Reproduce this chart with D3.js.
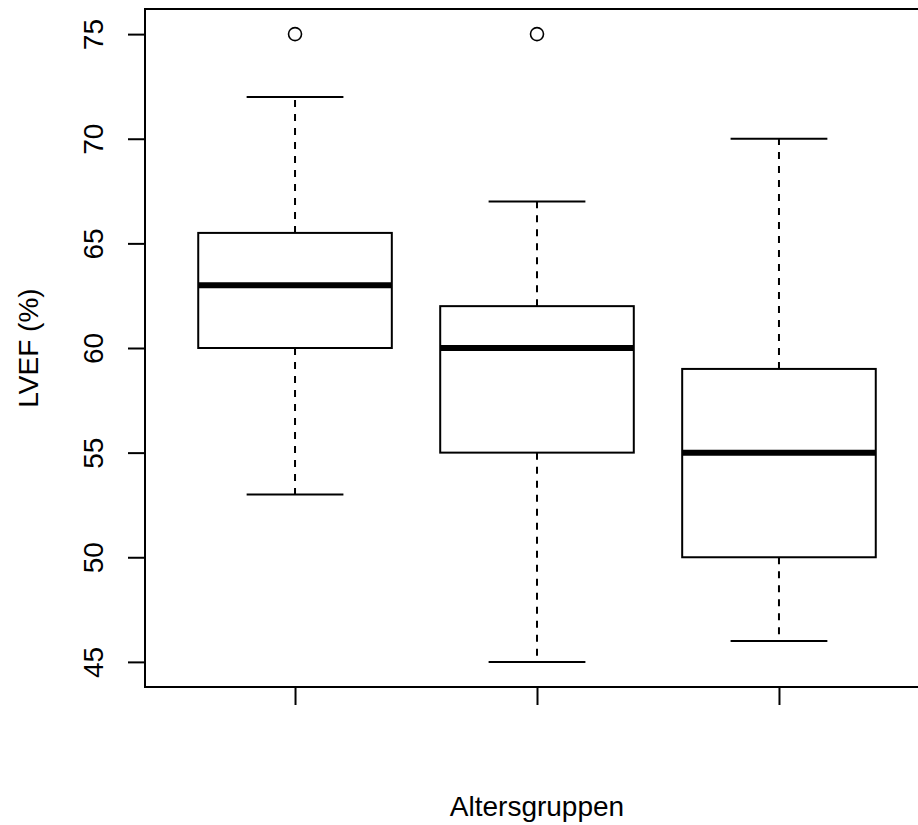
<!DOCTYPE html>
<html><head><meta charset="utf-8">
<script src="https://cdn.jsdelivr.net/npm/d3@7"></script>
<style>body{margin:0;background:#fff}svg{display:block}text{font-family:"Liberation Sans",Arial,sans-serif;fill:#000}</style>
</head><body><svg id="c" width="918" height="825"></svg>
<script>
const groups = ["1", "2", "3"];
const whiskerLow = [53, 45, 46];
const q1 = [60, 55, 50];
const medians = [63, 60, 55];
const q3 = [65.5, 62, 59];
const whiskerHigh = [72, 67, 70];
const outliers = [[75], [75], []];
const yTicks = [45, 50, 55, 60, 65, 70, 75];
const yLabel = "LVEF (%)";
const xLabel = "Altersgruppen";

const svg = d3.select("#c");
const x = d3.scaleLinear().domain([0.38, 3.62]).range([145, 929]);
const y = d3.scaleLinear().domain([43.8, 76.2]).range([687, 9]);
const half = 0.4;

// plot border
svg.append("rect").attr("x", x(0.38)).attr("y", y(76.2)).attr("width", x(3.62) - x(0.38)).attr("height", y(43.8) - y(76.2))
  .attr("fill", "none").attr("stroke", "#000").attr("stroke-width", 2);

// y axis
const ya = svg.append("g").attr("transform", `translate(${x(0.38)},0)`)
  .call(d3.axisLeft(y).tickValues(yTicks).tickSize(17).tickPadding(0).tickFormat(d3.format("d")));
ya.select(".domain").remove();
ya.selectAll("line").attr("stroke", "#000").attr("stroke-width", 2);
ya.selectAll(".tick text").attr("font-size", 28).attr("text-anchor", "middle")
  .attr("transform", "translate(-52,0) rotate(-90)").attr("y", 0).attr("dy", "0.36em").attr("x", 0);

// x axis ticks, no labels
const xa = svg.append("g").attr("transform", `translate(0,${y(43.8)})`)
  .call(d3.axisBottom(x).tickValues([1, 2, 3]).tickSize(18).tickFormat(""));
xa.select(".domain").remove();
xa.selectAll("line").attr("stroke", "#000").attr("stroke-width", 2);

// boxes
groups.forEach((g, i) => {
  const cx = i + 1;
  const gg = svg.append("g");
  gg.append("line").attr("x1", x(cx)).attr("x2", x(cx)).attr("y1", y(q3[i])).attr("y2", y(whiskerHigh[i]))
    .attr("stroke", "#000").attr("stroke-width", 2).attr("stroke-dasharray", "7,7");
  gg.append("line").attr("x1", x(cx)).attr("x2", x(cx)).attr("y1", y(q1[i])).attr("y2", y(whiskerLow[i]))
    .attr("stroke", "#000").attr("stroke-width", 2).attr("stroke-dasharray", "7,7");
  [whiskerLow[i], whiskerHigh[i]].forEach(v => {
    gg.append("line").attr("x1", x(cx - half / 2)).attr("x2", x(cx + half / 2)).attr("y1", y(v)).attr("y2", y(v))
      .attr("stroke", "#000").attr("stroke-width", 2);
  });
  gg.append("rect").attr("x", x(cx - half)).attr("y", y(q3[i])).attr("width", x(cx + half) - x(cx - half))
    .attr("height", y(q1[i]) - y(q3[i])).attr("fill", "#fff").attr("stroke", "#000").attr("stroke-width", 2);
  gg.append("line").attr("x1", x(cx - half)).attr("x2", x(cx + half)).attr("y1", y(medians[i])).attr("y2", y(medians[i]))
    .attr("stroke", "#000").attr("stroke-width", 6);
  outliers[i].forEach(v => {
    gg.append("circle").attr("cx", x(cx)).attr("cy", y(v)).attr("r", 6.5).attr("fill", "none")
      .attr("stroke", "#000").attr("stroke-width", 1.6);
  });
});

// axis titles
svg.append("text").attr("x", x(2)).attr("y", 816).attr("text-anchor", "middle").attr("font-size", 28).text(xLabel);
svg.append("text").attr("transform", `translate(38,${y(60)}) rotate(-90)`).attr("text-anchor", "middle")
  .attr("font-size", 28).text(yLabel);
</script></body></html>
